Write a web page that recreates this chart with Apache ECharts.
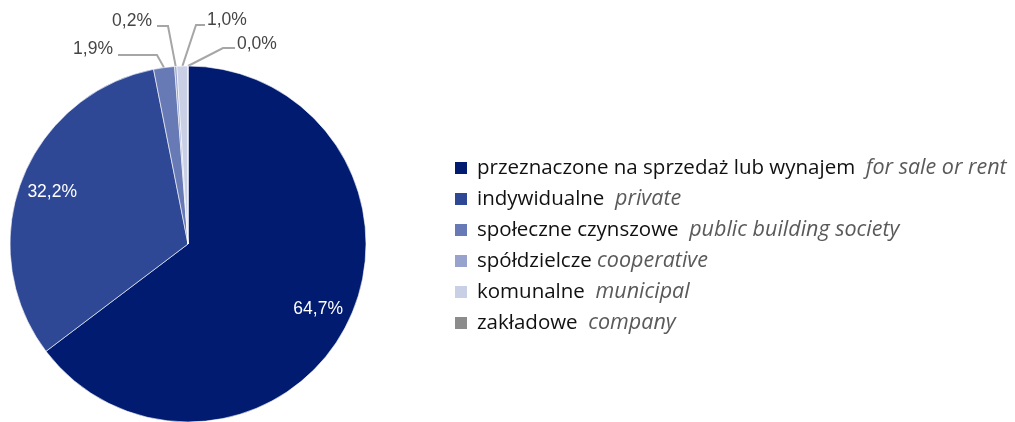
<!DOCTYPE html>
<html>
<head>
<meta charset="utf-8">
<script src="https://cdn.jsdelivr.net/npm/echarts@6/dist/echarts.min.js"></script>
<style>
html,body{margin:0;padding:0;background:#fff;}
#main{width:1015px;height:422px;}
</style>
</head>
<body>
<div id="main"></div>
<script>
// ---- data ----
const categories = ['przeznaczone na sprzedaż lub wynajem', 'indywidualne', 'społeczne czynszowe', 'spółdzielcze', 'komunalne', 'zakładowe'];
const categoriesEn = ['for sale or rent', 'private', 'public building society', 'cooperative', 'municipal', 'company'];
const gaps = ['  ', '  ', '  ', ' ', '  ', '  '];
const values = [64.7, 32.2, 1.9, 0.2, 1.0, 0.0];
const colors = ['#001b70', '#2f4896', '#687ab6', '#97a3cc', '#c9cfe5', '#8c8c8c'];

// ---- layout / style ----
const CX = 188, CY = 244, R = 178;
const insideFrac = 0.79;
const outsideCfg = {
  2: { x: 113, y: 49.5, align: 'right', bx: 157, ex: 118, ly: 55 },
  3: { x: 152, y: 21.5, align: 'right', bx: 168, ex: 157, ly: 26 },
  4: { x: 207, y: 20.5, align: 'left', bx: 196, ex: 205, ly: 25 },
  5: { x: 237, y: 44.5, align: 'left', bx: 223, ex: 235, ly: 48 }
};

const fmt = v => v.toFixed(1).replace('.', ',') + '%';

const data = categories.map((name, i) => {
  const inside = i < 2;
  return {
    name: name,
    value: values[i],
    itemStyle: { color: colors[i] },
    label: inside
      ? { position: 'inside', color: '#ffffff' }
      : { position: 'outside', color: '#454545' },
    labelLine: { show: !inside }
  };
});

const chart = echarts.init(document.getElementById('main'), null, { renderer: 'canvas' });
chart.setOption({
  animation: false,
  backgroundColor: '#ffffff',
  legend: {
    orient: 'vertical',
    left: 455,
    top: 157,
    padding: 0,
    itemWidth: 12,
    itemHeight: 12,
    itemGap: 9,
    icon: 'rect',
    itemStyle: { borderWidth: 0 },
    selectedMode: false,
    data: categories,
    formatter: function (name) {
      const i = categories.indexOf(name);
      return '{a|' + name + '}{g|' + gaps[i] + '}{b|' + categoriesEn[i] + '}';
    },
    textStyle: {
      fontFamily: 'Open Sans',
      fontSize: 20.5,
      lineHeight: 22,
      rich: {
        a: { fontFamily: 'Open Sans', fontSize: 20.5, color: '#111111', lineHeight: 22, padding: [0, 0, 0, 5] },
        g: { fontFamily: 'Open Sans', fontSize: 20.5, lineHeight: 22 },
        b: { fontFamily: 'Open Sans', fontSize: 21.5, fontStyle: 'italic', color: '#5a5a5a', lineHeight: 22 }
      }
    }
  },
  series: [{
    type: 'pie',
    center: [CX, CY],
    radius: R,
    startAngle: 90,
    clockwise: true,
    avoidLabelOverlap: false,
    silent: true,
    itemStyle: { borderColor: '#ffffff', borderWidth: 0.6 },
    label: {
      show: true,
      fontFamily: 'Liberation Sans',
      fontSize: 17.5,
      formatter: p => fmt(p.value)
    },
    labelLine: {
      show: true,
      length: 10,
      length2: 10,
      lineStyle: { color: '#a6a6a6', width: 2 }
    },
    labelLayout: function (p) {
      const i = p.dataIndex;
      const cfg = outsideCfg[i];
      if (!cfg) {
        const lx = p.labelRect.x + p.labelRect.width / 2;
        const ly = p.labelRect.y + p.labelRect.height / 2;
        const k = insideFrac / 0.5;
        return { x: CX + (lx - CX) * k, y: CY + (ly - CY) * k, align: 'center', verticalAlign: 'middle' };
      }
      const start = p.labelLinePoints ? p.labelLinePoints[0] : [CX, CY - R];
      return {
        x: cfg.x, y: cfg.y, align: cfg.align, verticalAlign: 'middle',
        labelLinePoints: [start, [cfg.bx, cfg.ly], [cfg.ex, cfg.ly]]
      };
    },
    data: data
  }]
});
</script>
</body>
</html>
